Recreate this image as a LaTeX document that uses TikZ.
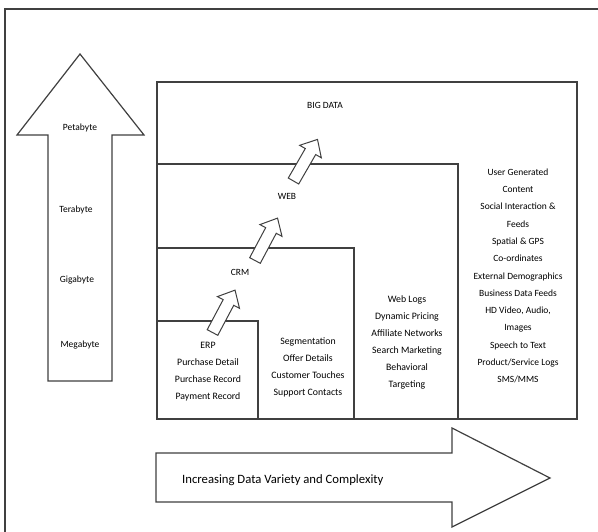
\documentclass[tikz,border=0pt]{standalone}
\usepackage{fontspec}
\setmainfont{Carlito}
\begin{document}
\begin{tikzpicture}[x=1pt,y=-1pt,
  line/.style={draw=black!75,line width=1.3pt},
  blockarrow/.style={draw=black!75,line width=1.2pt,fill=white,line join=miter},
  lvl/.style={font=\fontsize{9.5}{12}\selectfont,text=black,inner sep=0pt},
  lst/.style={font=\fontsize{9.8}{17}\selectfont,text=black,align=center,inner sep=0pt},
  ttl/.style={font=\fontsize{9.5}{12}\selectfont,text=black,inner sep=0pt}]
\useasboundingbox (0,0) rectangle (598,532);
\fill[white] (0,0) rectangle (598,532);
% outer frame (cut off at right and bottom)
\draw[line] (5,532) -- (5,9) -- (598,9);
% size arrow
\draw[blockarrow] (48,381) -- (48,135) -- (17,135) -- (80,54) -- (144,135) -- (112,135) -- (112,381) -- cycle;
\node[lvl] (peta) at (80,128) {Petabyte};
\node[lvl] (tera) at (76,210) {Terabyte};
\node[lvl] (giga) at (77,280) {Gigabyte};
\node[lvl] (mega) at (80,345) {Megabyte};
% nested boxes
\draw[line] (157,82) rectangle (577,419);
\draw[line] (157,164) rectangle (458,419);
\draw[line] (157,248) rectangle (354,419);
\draw[line] (157,321) rectangle (258,419);
% labels
\node[ttl] (bigdata) at (325,105) {BIG DATA};
\node[ttl] (web) at (287,196) {WEB};
\node[ttl] (crm) at (240,272) {CRM};
% small arrows
\foreach \px/\py/\ang in {212.5/332.5/62, 255/260.5/62, 293.5/181/60}{
  \begin{scope}[shift={(\px,\py)},rotate=\ang]
    \draw[blockarrow,line width=1pt] (0,-6) -- (34,-6) -- (34,-12.5) -- (48,0) -- (34,12.5) -- (34,6) -- (0,6) -- cycle;
  \end{scope}
}
% lists
\node[lst] (erp) at (208,372) {ERP\\Purchase Detail\\Purchase Record\\Payment Record};
\node[lst] (seg) at (308,367) {Segmentation\\Offer Details\\Customer Touches\\Support Contacts};
\node[lst] (weblist) at (407,342) {Web Logs\\Dynamic Pricing\\Affiliate Networks\\Search Marketing\\Behavioral\\Targeting};
\node[lst,font=\fontsize{9.5}{17.3}\selectfont] (bd) at (518,276) {User Generated\\Content\\Social Interaction \&\\Feeds\\Spatial \& GPS\\Co-ordinates\\External Demographics\\Business Data Feeds\\HD Video, Audio,\\Images\\Speech to Text\\Product/Service Logs\\SMS/MMS};
% variety arrow
\draw[blockarrow] (156,453) -- (452,453) -- (452,428) -- (550,478) -- (452,527) -- (452,502) -- (156,502) -- cycle;
\node[font=\fontsize{12.7}{15}\selectfont,text=black,anchor=west,inner sep=0pt] (variety) at (182,480) {Increasing Data Variety and Complexity};
\end{tikzpicture}
\end{document}
